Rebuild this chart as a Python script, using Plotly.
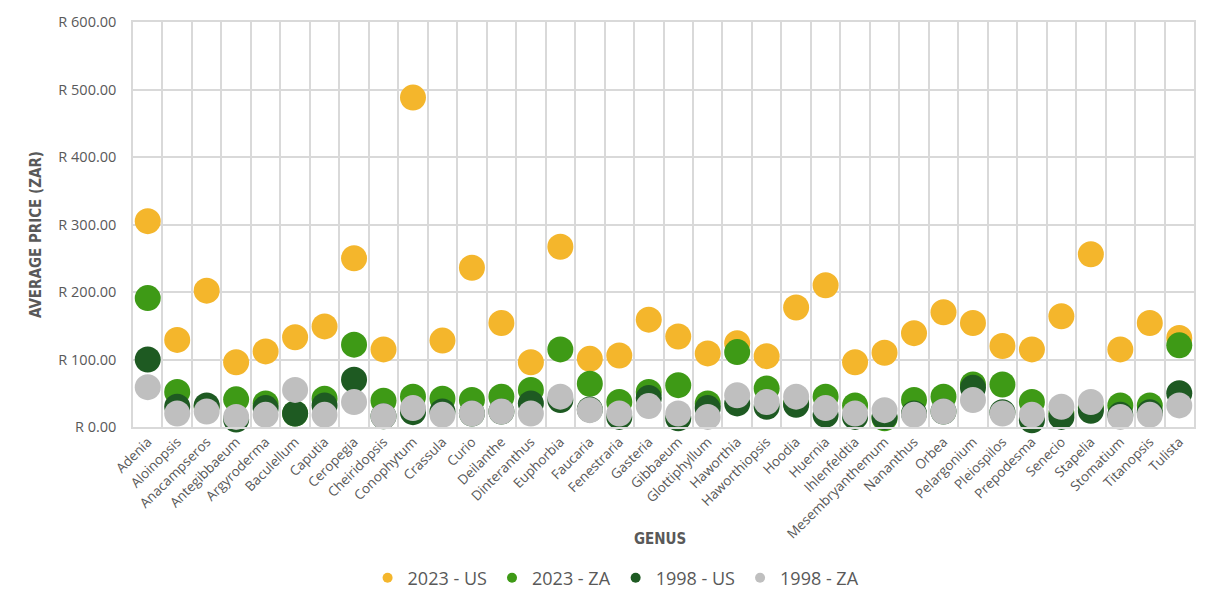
import plotly.graph_objects as go

genus = ["Adenia", "Aloinopsis", "Anacampseros", "Antegibbaeum", "Argyroderma", "Baculellum",
         "Caputia", "Ceropegia", "Cheiridopsis", "Conophytum", "Crassula", "Curio", "Deilanthe",
         "Dinteranthus", "Euphorbia", "Faucaria", "Fenestraria", "Gasteria", "Gibbaeum",
         "Glottiphyllum", "Haworthia", "Haworthiopsis", "Hoodia", "Huernia", "Ihlenfeldtia",
         "Mesembryanthemum", "Nananthus", "Orbea", "Pelargonium", "Pleiospilos", "Prepodesma",
         "Senecio", "Stapelia", "Stomatium", "Titanopsis", "Tulista"]

us_2023 = [305, 129, 202, 96, 112, 133, 149, 250, 115, 488, 128, 236, 154, 96, 267, 101, 106,
           159, 134, 109, 124, 105, 177, 210, 96, 110, 139, 170, 154, 120, 115, 164, 256, 115,
           154, 132]
za_2023 = [191, 52, 30, 41, 35, 20, 42, 122, 39, 45, 42, 40, 45, 55, 115, 64, 37, 52, 62, 35,
           111, 57, 35, 45, 32, 13, 40, 45, 63, 63, 37, 20, 28, 32, 32, 121]
us_1998 = [100, 30, 32, 11, 28, 20, 32, 70, 16, 22, 23, 20, 23, 35, 40, 26, 15, 43, 13, 28,
           35, 30, 33, 18, 15, 15, 20, 23, 58, 22, 10, 15, 24, 18, 22, 50]
za_1998 = [59, 20, 23, 15, 18, 55, 18, 37, 16, 28, 18, 20, 23, 20, 45, 25, 20, 31, 20, 15,
           47, 37, 45, 28, 20, 25, 18, 23, 40, 20, 18, 30, 37, 15, 18, 32]

y_ticks = [0, 100, 200, 300, 400, 500, 600]
y_tick_labels = ["R 0.00", "R 100.00", "R 200.00", "R 300.00", "R 400.00", "R 500.00", "R 600.00"]

series = [
    ("2023 - US", us_2023, "#F4B62C"),
    ("2023 - ZA", za_2023, "#3E9A16"),
    ("1998 - US", us_1998, "#1E5A22"),
    ("1998 - ZA", za_1998, "#BFBFBF"),
]

fig = go.Figure()
for name, vals, col in series:
    fig.add_trace(go.Scatter(x=genus, y=vals, mode="markers", name=name, showlegend=False,
                             cliponaxis=False,
                             marker=dict(size=26, color=col, line=dict(width=0))))
for name, vals, col in series:
    fig.add_trace(go.Scatter(x=[None], y=[None], mode="markers", name=name, showlegend=True,
                             marker=dict(size=10, color=col)))

grid = "#D9D9D9"
txt = "#595959"
title_font = "DejaVu Sans Condensed, Open Sans, sans-serif"
fig.update_layout(
    width=1208, height=591,
    paper_bgcolor="white", plot_bgcolor="white",
    margin=dict(l=133, r=13, t=20, b=164),
    font=dict(family="Open Sans, sans-serif", color=txt),
    xaxis=dict(type="category", categoryorder="array", categoryarray=genus,
               tickson="boundaries", showgrid=True, gridcolor=grid, gridwidth=1.5,
               showline=True, linecolor=grid, linewidth=1.5, mirror=True,
               ticks="", tickangle=-45, tickfont=dict(size=13.5, color=txt),
               range=[-0.5, len(genus) - 0.5]),
    yaxis=dict(range=[0, 600], tickvals=y_ticks, ticktext=y_tick_labels,
               showgrid=True, gridcolor=grid, gridwidth=1.5, zeroline=False,
               showline=True, linecolor=grid, linewidth=1.5, mirror=True,
               ticks="", ticklabelstandoff=12, tickfont=dict(size=14.5, color=txt)),
    legend=dict(orientation="h", xref="container", x=0.51, xanchor="center",
                yref="container", y=0.022, yanchor="middle",
                font=dict(size=18, color=txt), tracegroupgap=0),
    annotations=[
        dict(text="<b>AVERAGE PRICE (ZAR)</b>", xref="paper", yref="paper",
             x=-0.092, y=0.475, xanchor="center", yanchor="middle", textangle=-90,
             showarrow=False, font=dict(family=title_font, size=15, color=txt)),
        dict(text="<b>GENUS</b>", xref="paper", yref="paper",
             x=0.497, y=(427 - 540) / 407, xanchor="center", yanchor="middle",
             showarrow=False, font=dict(family=title_font, size=15, color=txt)),
    ],
)

fig.write_html("out.html")
